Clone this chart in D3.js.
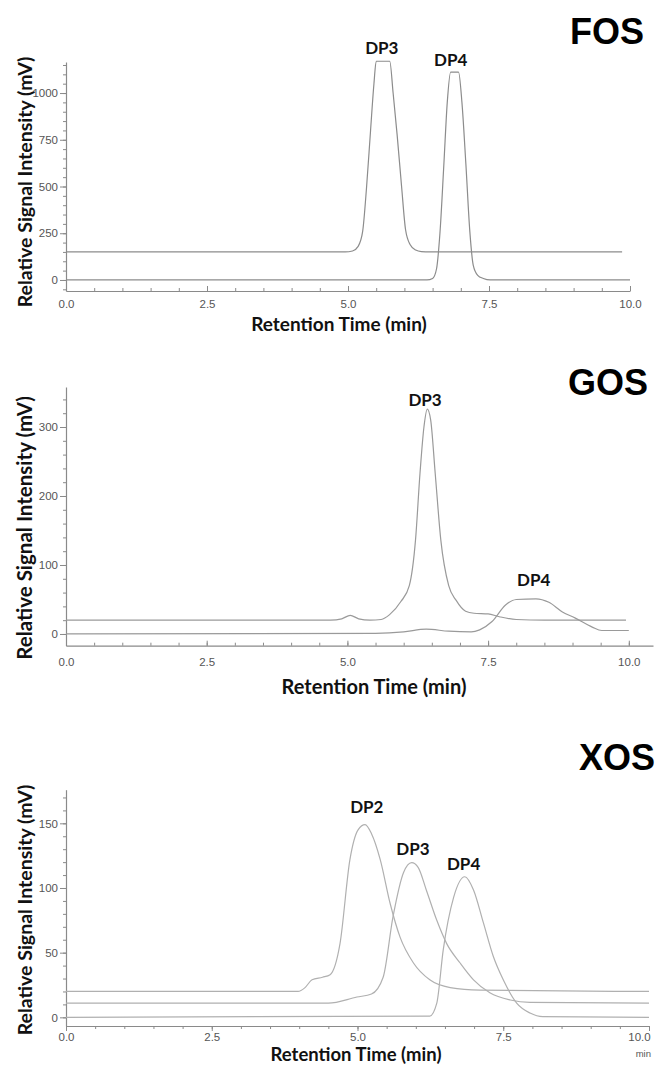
<!DOCTYPE html>
<html>
<head>
<meta charset="utf-8">
<script src="https://cdn.jsdelivr.net/npm/d3@7"></script>
<style>
  body { margin: 0; background: #fff; }
  svg { display: block; }
</style>
</head>
<body>
<svg id="chart"></svg>
<script>
// shared time axis
const timeTicks = [0, 2.5, 5, 7.5, 10];
const timeMinorTicks = [0, 0.5, 1, 1.5, 2, 2.5, 3, 3.5, 4, 4.5, 5, 5.5, 6, 6.5, 7, 7.5, 8, 8.5, 9, 9.5, 10];

// FOS traces
const fosDp3Time   = [0, 4.95, 5.08, 5.18, 5.26, 5.33, 5.4, 5.46, 5.5, 5.74, 5.8, 5.87, 5.95, 6.02, 6.1, 6.2, 6.3, 6.45, 9.86];
const fosDp3Signal = [150, 150, 155, 180, 260, 500, 800, 1050, 1170, 1170, 1000, 780, 500, 270, 190, 160, 152, 150, 150];
const fosDp4Time   = [0, 6.4, 6.5, 6.57, 6.63, 6.7, 6.76, 6.82, 6.96, 7.02, 7.09, 7.16, 7.22, 7.3, 7.4, 7.52, 10];
const fosDp4Signal = [0, 0, 8, 60, 250, 620, 950, 1112, 1112, 950, 620, 260, 80, 25, 8, 0, 0];
const fosYTicks = [0, 250, 500, 750, 1000];
const fosPeakNames = ["DP3", "DP4"];
const fosPeakTime = [5.6, 6.82];
const fosPeakLabelSignal = [1208, 1144];

// GOS traces
const gosDp3Time   = [0, 4.7, 4.9, 5.05, 5.2, 5.4, 5.6, 5.75, 5.95, 6.1, 6.21, 6.29, 6.36, 6.42, 6.48, 6.56, 6.66, 6.8, 6.93, 7.1, 7.25, 7.5, 7.7, 8.0, 8.5, 9.95];
const gosDp3Signal = [20, 20, 22, 27, 22, 20, 21, 28, 47, 70, 136, 233, 300, 326, 310, 233, 136, 70, 49, 33, 30, 29, 25, 21, 20, 20];
const gosDp4Time   = [0, 5.5, 6.0, 6.4, 6.8, 7.2, 7.35, 7.57, 7.81, 8.0, 8.35, 8.58, 8.82, 9.05, 9.35, 9.52, 10];
const gosDp4Signal = [0, 1, 3, 7, 4, 3, 6, 18, 42, 50, 51, 46, 32, 23, 10, 5, 5];
const gosYTicks = [0, 100, 200, 300];
const gosPeakNames = ["DP3", "DP4"];
const gosPeakTime = [6.38, 8.31];
const gosPeakLabelSignal = [331, 70];

// XOS traces
const xosDp2Time   = [0, 3.98, 4.1, 4.22, 4.4, 4.53, 4.7, 4.87, 5.01, 5.13, 5.24, 5.39, 5.56, 5.73, 5.96, 6.24, 6.59, 7.1, 10];
const xosDp2Signal = [20, 20, 23, 29, 31, 33, 57, 122, 145, 149, 142, 122, 88, 62, 42, 29, 23, 21, 20];
const xosDp3Time   = [0, 4.5, 4.99, 5.24, 5.44, 5.61, 5.79, 5.93, 6.04, 6.18, 6.36, 6.53, 6.76, 6.99, 7.27, 7.62, 7.96, 10];
const xosDp3Signal = [11, 11, 15.7, 18, 31, 78, 112, 119.6, 116, 98.5, 75, 57, 42, 29, 19, 13.4, 11.5, 11];
const xosDp4Time   = [0, 6.24, 6.36, 6.47, 6.65, 6.84, 6.99, 7.16, 7.33, 7.5, 7.73, 7.96, 8.18, 10];
const xosDp4Signal = [0, 1, 11, 52, 93, 108.7, 98.5, 73, 47, 29, 11, 3.3, 0.5, 0];
const xosYTicks = [0, 50, 100, 150];
const xosPeakNames = ["DP2", "DP3", "DP4"];
const xosPeakTime = [5.16, 5.95, 6.82];
const xosPeakLabelSignal = [158, 125.5, 114];

const W = 657, H = 1068;
const svg = d3.select("#chart").attr("width", W).attr("height", H);

const zip = (t, s) => t.map((d, i) => ({t: d, s: s[i]}));

// layout of each panel (pixels only)
const panels = [
  {
    title: "FOS", titleX: 644, titleY: 44,
    xDomain: [0, 10], xRange: [66, 630],
    yDomain: [-59, 1166], yRange: [291, 62], yMinorStep: 50,
    yTicks: fosYTicks,
    traces: [zip(fosDp3Time, fosDp3Signal), zip(fosDp4Time, fosDp4Signal)],
    stroke: "#8c8c8c",
    names: fosPeakNames, peakT: fosPeakTime, peakS: fosPeakLabelSignal,
    xTickDir: -1, labelPad: 9, xTitleY: 331, xTitleX: 339, xTitleSize: 19,
    yTitleY: 182, yTitleSize: 19.5, lastLabelShift: 0
  },
  {
    title: "GOS", titleX: 648, titleY: 395,
    xDomain: [0, 10.43], xRange: [66, 653],
    yDomain: [-17, 358], yRange: [645.7, 387], yMinorStep: 20,
    yTicks: gosYTicks,
    traces: [zip(gosDp3Time, gosDp3Signal), zip(gosDp4Time, gosDp4Signal)],
    stroke: "#9a9a9a",
    names: gosPeakNames, peakT: gosPeakTime, peakS: gosPeakLabelSignal,
    xTickDir: -1, labelPad: 12, xTitleY: 694, xTitleX: 374, xTitleSize: 20,
    yTitleY: 528, yTitleSize: 20.5, lastLabelShift: 0
  },
  {
    title: "XOS", titleX: 655, titleY: 770,
    xDomain: [0, 10], xRange: [66, 649],
    yDomain: [-6.7, 176], yRange: [1026, 789.7], yMinorStep: 10,
    yTicks: xosYTicks,
    traces: [zip(xosDp2Time, xosDp2Signal), zip(xosDp3Time, xosDp3Signal), zip(xosDp4Time, xosDp4Signal)],
    stroke: "#b0b0b0",
    names: xosPeakNames, peakT: xosPeakTime, peakS: xosPeakLabelSignal,
    xTickDir: 1, labelPad: 2, xTitleY: 1061, xTitleX: 356, xTitleSize: 18.5,
    yTitleY: 910, yTitleSize: 19.5, lastLabelShift: -10
  }
];

panels.forEach(p => {
  const g = svg.append("g");
  const x = d3.scaleLinear().domain(p.xDomain).range(p.xRange);
  const y = d3.scaleLinear().domain(p.yDomain).range(p.yRange);
  const axisY = p.yRange[0];

  // x axis: major ticks with labels
  const xAxis = g.append("g")
    .attr("transform", `translate(0,${axisY})`)
    .call(d3.axisBottom(x).tickValues(timeTicks)
      .tickFormat(d3.format(".1f"))
      .tickSizeInner(5 * p.xTickDir).tickSizeOuter(0)
      .tickPadding(p.labelPad));
  xAxis.selectAll(".tick text")
    .filter(d => d === 10)
    .attr("dx", p.lastLabelShift);

  // minor ticks
  g.append("g")
    .attr("transform", `translate(0,${axisY})`)
    .call(d3.axisBottom(x).tickValues(timeMinorTicks)
      .tickFormat("").tickSizeInner(3 * p.xTickDir).tickSizeOuter(0))
    .select(".domain").remove();

  // y axis
  const yMinor = d3.range(Math.ceil(p.yDomain[0] / p.yMinorStep) * p.yMinorStep, p.yDomain[1], p.yMinorStep);
  g.append("g")
    .attr("transform", `translate(${p.xRange[0]},0)`)
    .call(d3.axisLeft(y).tickValues(p.yTicks).tickFormat(d3.format("d"))
      .tickSizeInner(6).tickSizeOuter(0).tickPadding(2));
  g.append("g")
    .attr("transform", `translate(${p.xRange[0]},0)`)
    .call(d3.axisLeft(y).tickValues(yMinor).tickFormat("").tickSizeInner(3).tickSizeOuter(0))
    .select(".domain").remove();

  g.selectAll(".domain").attr("stroke", "#8a8a8a").attr("stroke-width", 1.2);
  g.selectAll(".tick line").attr("stroke", "#8a8a8a");
  g.selectAll(".tick text")
    .attr("fill", "#555")
    .style("font-family", "'Liberation Sans', Arial, sans-serif")
    .style("font-size", "11.5px");

  // traces
  const line = d3.line()
    .x(d => x(d.t))
    .y(d => y(d.s))
    .curve(d3.curveMonotoneX);
  p.traces.forEach(tr => {
    g.append("path")
      .datum(tr)
      .attr("fill", "none")
      .attr("stroke", p.stroke)
      .attr("stroke-width", 1.2)
      .attr("d", line);
  });

  // peak labels
  p.names.forEach((name, i) => {
    g.append("text")
      .attr("x", x(p.peakT[i]))
      .attr("y", y(p.peakS[i]))
      .attr("text-anchor", "middle")
      .style("font-family", "Lato, 'Open Sans', sans-serif")
      .style("font-weight", "bold")
      .style("font-size", "17px")
      .attr("fill", "#111")
      .text(name);
  });

  // panel title
  g.append("text")
    .attr("x", p.titleX).attr("y", p.titleY)
    .attr("text-anchor", "end")
    .style("font-family", "'Liberation Sans', Arial, sans-serif")
    .style("font-weight", "bold")
    .style("font-size", "36px")
    .attr("fill", "#000")
    .text(p.title);

  // axis titles
  g.append("text")
    .attr("x", p.xTitleX).attr("y", p.xTitleY)
    .attr("text-anchor", "middle")
    .style("font-family", "Lato, 'Open Sans', sans-serif")
    .style("font-weight", "bold")
    .style("font-size", p.xTitleSize + "px")
    .attr("fill", "#111")
    .text("Retention Time (min)");
  g.append("text")
    .attr("transform", `translate(32,${p.yTitleY}) rotate(-90)`)
    .attr("text-anchor", "middle")
    .style("font-family", "Lato, 'Open Sans', sans-serif")
    .style("font-weight", "bold")
    .style("font-size", p.yTitleSize + "px")
    .attr("fill", "#111")
    .text("Relative Signal Intensity (mV)");
});

// unit note under the last x axis
svg.append("text")
  .attr("x", 651).attr("y", 1057)
  .attr("text-anchor", "end")
  .style("font-family", "'Liberation Sans', Arial, sans-serif")
  .style("font-size", "9.5px")
  .attr("fill", "#555")
  .text("min");
</script>
</body>
</html>
